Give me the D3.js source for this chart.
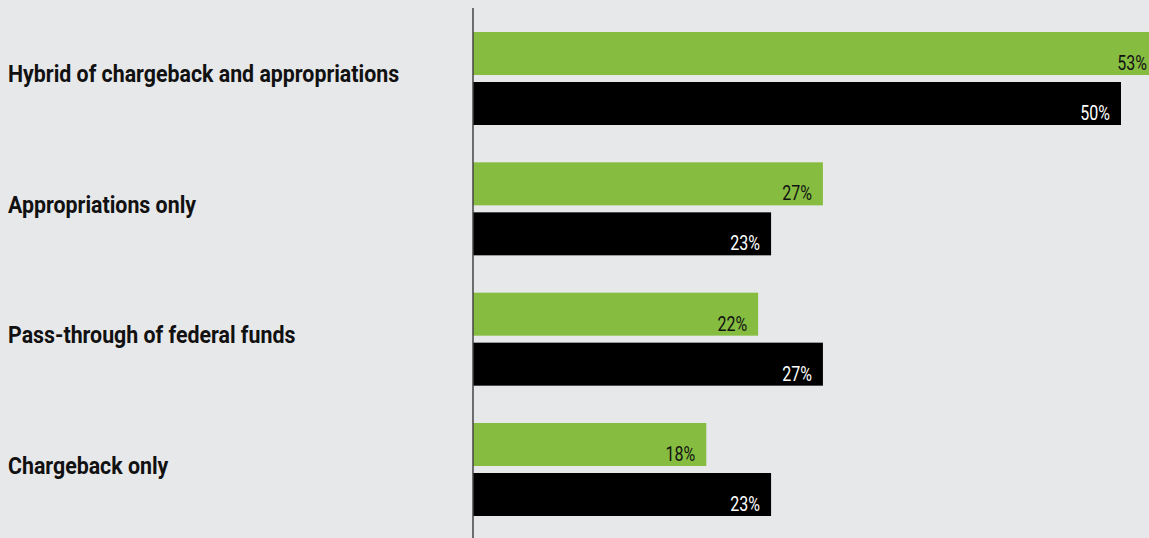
<!DOCTYPE html>
<html>
<head>
<meta charset="utf-8">
<script src="https://cdn.jsdelivr.net/npm/d3@7"></script>
<style>
  html, body { margin: 0; padding: 0; background: #e7e8ea; }
  svg { display: block; }
</style>
</head>
<body>
<svg id="chart" width="1149" height="538"></svg>
<script>
// Funding models, two survey waves per category (percent of respondents)
const categories = [
  "Hybrid of chargeback and appropriations",
  "Appropriations only",
  "Pass-through of federal funds",
  "Chargeback only"
];
const seriesKeys = ["latest", "prior"];
const latestValues = [53, 27, 22, 18];
const priorValues = [50, 23, 27, 23];
const seriesColors = { latest: "#86bd41", prior: "#000000" };
const labelColors = { latest: "#111111", prior: "#ffffff" };

const rows = categories.map((c, i) => ({
  category: c,
  latest: latestValues[i],
  prior: priorValues[i]
}));

const W = 1149, H = 538;
const svg = d3.select("#chart");

const x = d3.scaleLinear().domain([0, 50]).range([473, 1121]);

const y = d3.scaleBand()
  .domain(categories)
  .range([13.33, 534.67])
  .paddingInner(0.2864)
  .paddingOuter(0.1432);

const ySub = d3.scaleBand()
  .domain(seriesKeys)
  .range([0, y.bandwidth()])
  .paddingInner(0.14);

// Horizontal squeeze used for the condensed type
const CAT_SQUEEZE = 0.89;
const VAL_SQUEEZE = 0.8;

// Category labels
svg.append("g")
  .selectAll("text")
  .data(categories)
  .join("text")
  .attr("transform", d => `translate(8,${y(d) + y.bandwidth() / 2 + 4}) scale(${CAT_SQUEEZE},1)`)
  .attr("font-family", "Roboto, 'Noto Sans', sans-serif")
  .attr("font-weight", "bold")
  .attr("font-size", 24)
  .attr("fill", "#111")
  .text(d => d);

// Bars
const groups = svg.append("g")
  .selectAll("g")
  .data(rows)
  .join("g")
  .attr("transform", d => `translate(0,${y(d.category)})`);

const cells = groups.selectAll("g")
  .data(d => seriesKeys.map(k => ({ key: k, value: d[k] })))
  .join("g");

cells.append("rect")
  .attr("x", x(0))
  .attr("y", d => ySub(d.key))
  .attr("width", d => x(d.value) - x(0))
  .attr("height", ySub.bandwidth())
  .attr("fill", d => seriesColors[d.key]);

// Value labels sit inside the bar end; kept inside the frame for long bars
cells.append("text")
  .attr("transform", d =>
    `translate(${Math.min(x(d.value) - 11, W - 2)},${ySub(d.key) + ySub.bandwidth() - 5}) scale(${VAL_SQUEEZE},1)`)
  .attr("text-anchor", "end")
  .attr("font-family", "Roboto, 'Noto Sans', sans-serif")
  .attr("font-weight", 400)
  .attr("font-size", 20)
  .attr("fill", d => labelColors[d.key])
  .text(d => d.value + "%");

// Baseline
svg.append("line")
  .attr("x1", x(0)).attr("x2", x(0))
  .attr("y1", 8).attr("y2", H)
  .attr("stroke", "#444")
  .attr("stroke-width", 1.5);
</script>
</body>
</html>
